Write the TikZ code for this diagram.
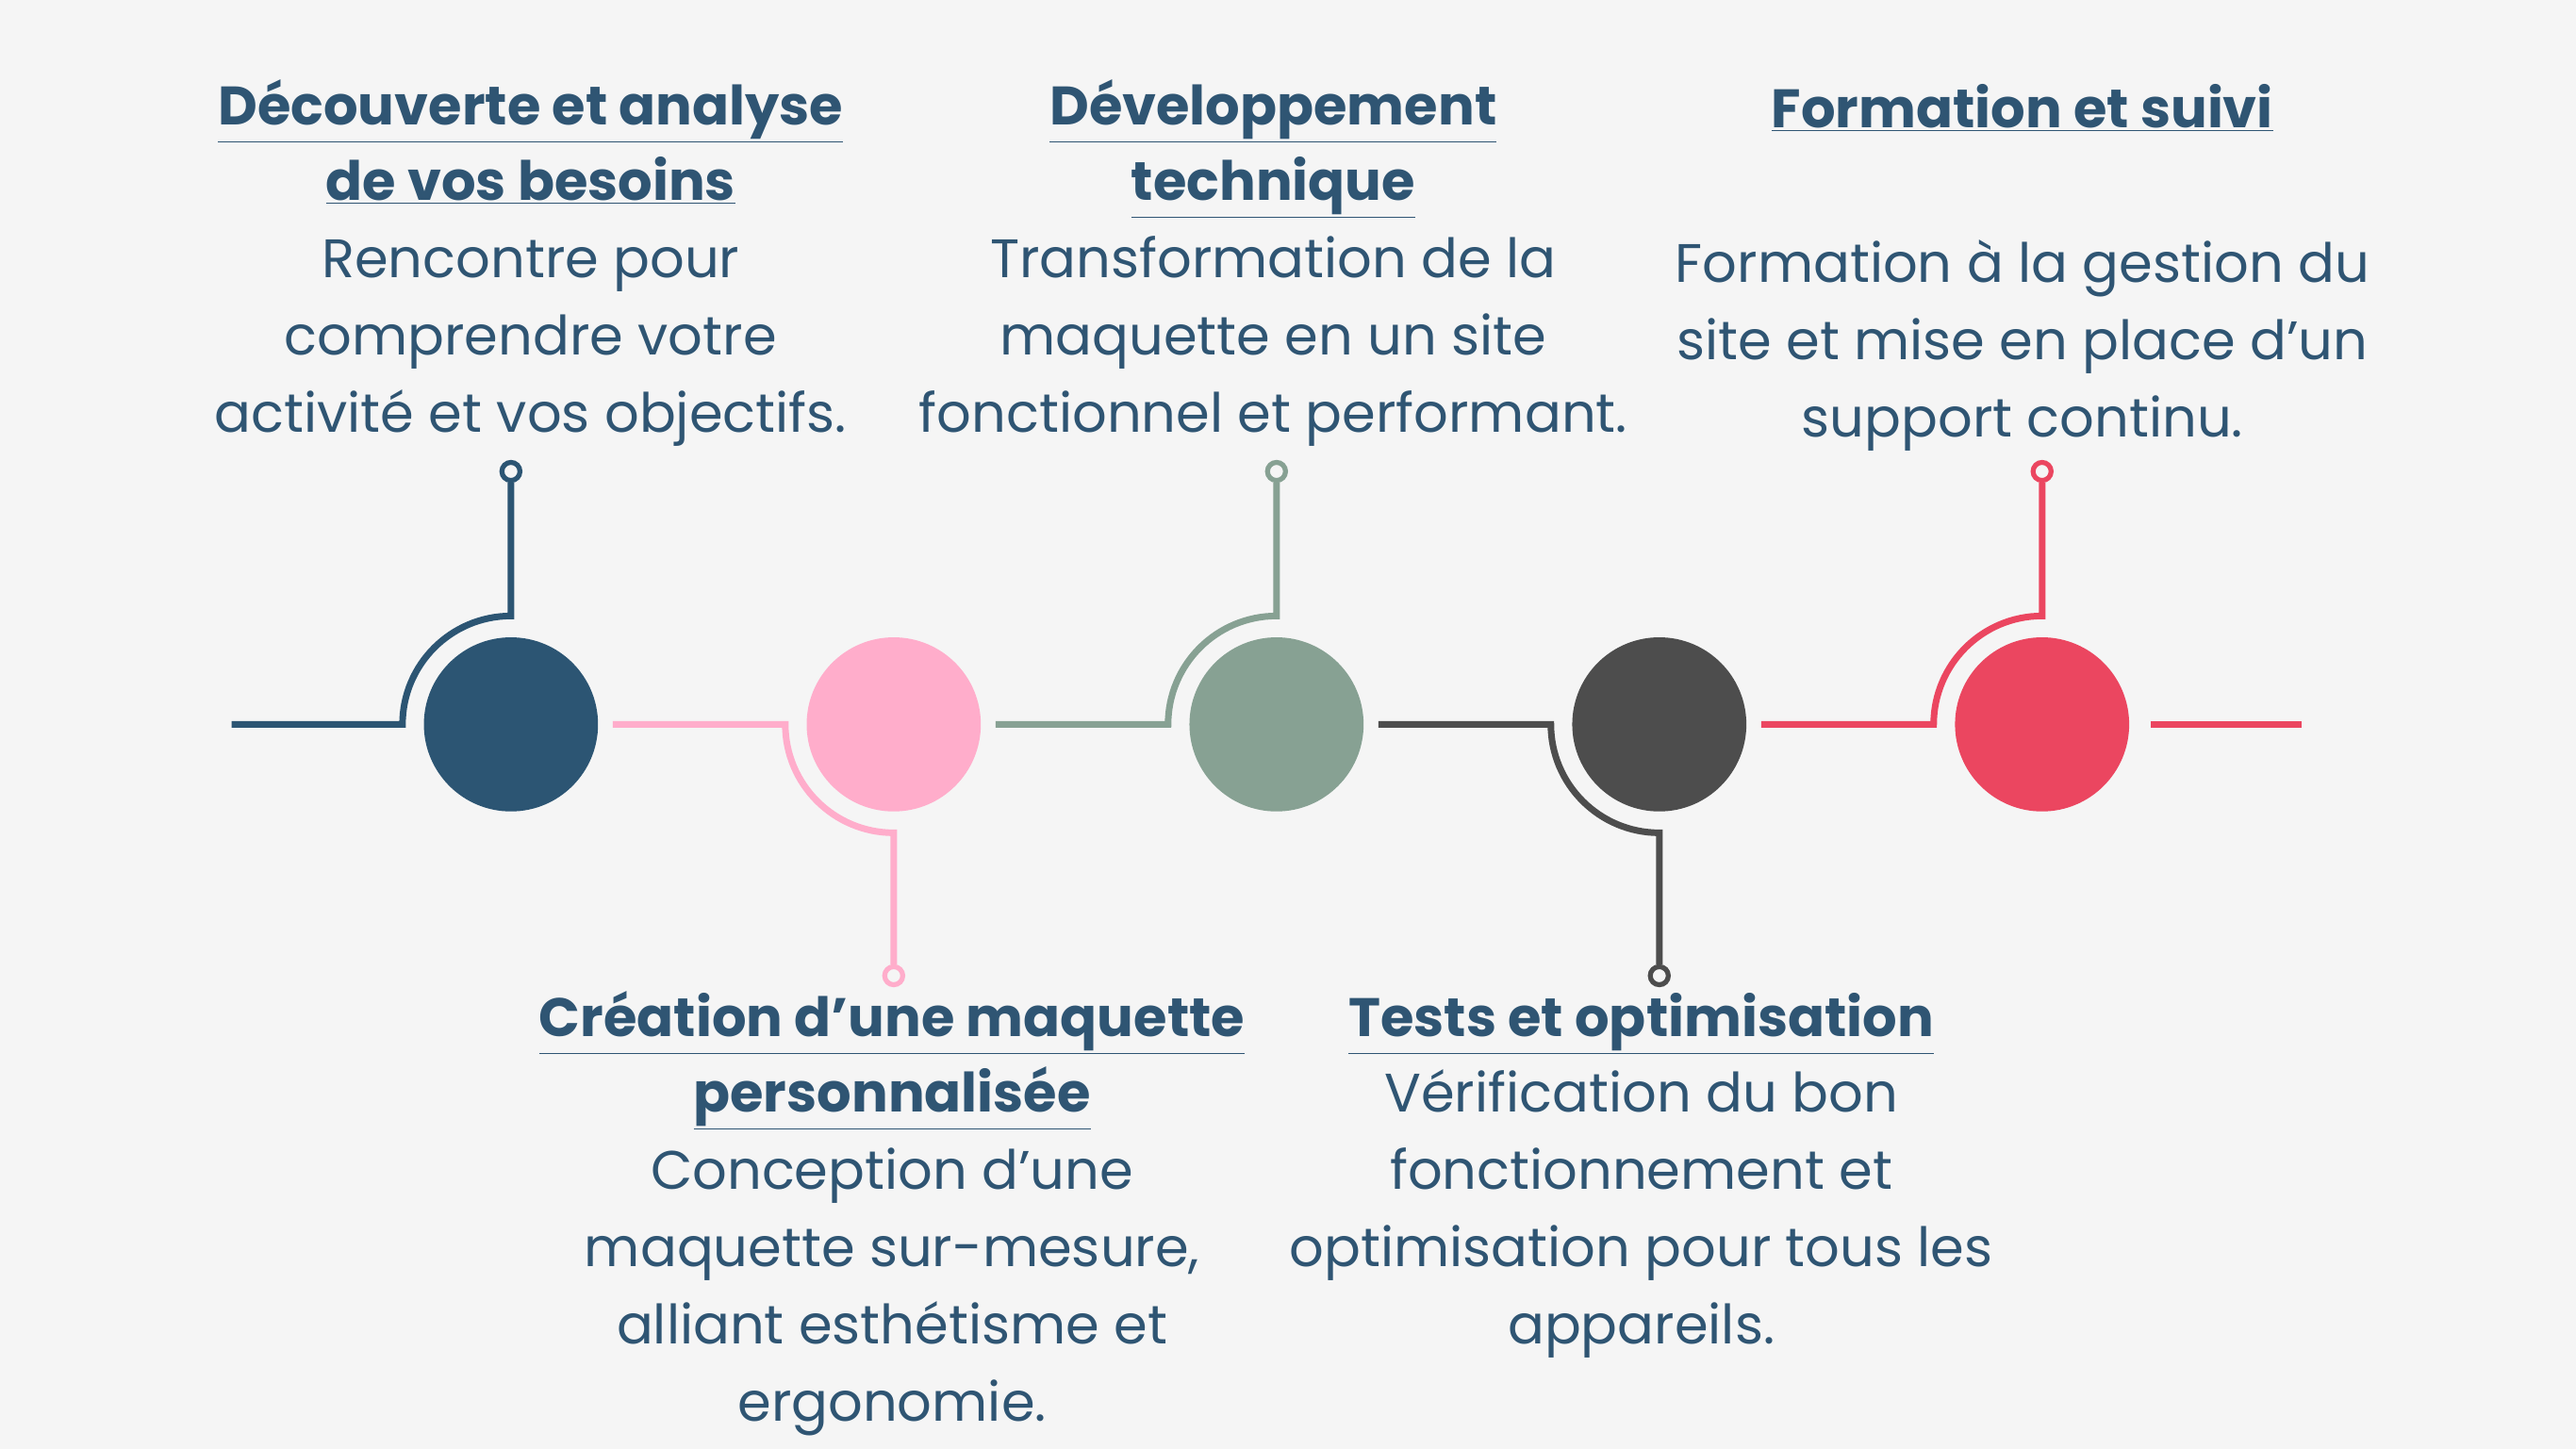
\documentclass[tikz,border=0pt]{standalone}
\usepackage{fontspec}
\setmainfont{Poppins}
\definecolor{bg}{HTML}{F5F5F5}
\definecolor{navy}{HTML}{2C5573}
\definecolor{pinkc}{HTML}{FFADCB}
\definecolor{sage}{HTML}{87A193}
\definecolor{darkc}{HTML}{4D4D4D}
\definecolor{redc}{HTML}{EB4660}
\definecolor{txt}{HTML}{2F5573}
\tikzset{
 ttl/.style={font=\fontsize{33}{38}\selectfont\bfseries, text=txt, inner sep=0pt, text height=25pt, text depth=9pt},
 bdy/.style={font=\fontsize{33}{38}\selectfont, text=txt, inner sep=0pt, text height=25pt, text depth=9pt},
 conn/.style={line width=4pt},
 dot/.style={circle, minimum size=106pt, inner sep=0pt},
 pin/.style={circle, draw, line width=3pt, fill=bg, minimum size=11pt, inner sep=0pt}
}
\newcommand{\tl}[4]{\node[ttl] (#1) at (#2,#3) {\underline{#4}};}
\newcommand{\bl}[4]{\node[bdy] (#1) at (#2,#3) {#4};}
\begin{document}
\begin{tikzpicture}[x=1pt,y=-1pt]
\fill[bg] (0,0) rectangle (1568,882);
\useasboundingbox (0,0) rectangle (1568,882);
% step 1 navy (up)
\coordinate (a0) at (141,441); \coordinate (a1) at (245,441);
\node[pin, draw=navy] (p1) at (311,287) {};
\draw[conn, navy] (a0) -- (a1) arc[start angle=180, end angle=270, radius=66] -- (p1.south);
\node[dot, fill=navy] (c1) at (311,441) {};
% step 2 pink (down)
\coordinate (b0) at (373,441); \coordinate (b1) at (478,441);
\node[pin, draw=pinkc] (p2) at (544,594) {};
\draw[conn, pinkc] (b0) -- (b1) arc[start angle=180, end angle=90, radius=66] -- (p2.north);
\node[dot, fill=pinkc] (c2) at (544,441) {};
% step 3 sage (up)
\coordinate (d0) at (606,441); \coordinate (d1) at (711,441);
\node[pin, draw=sage] (p3) at (777,287) {};
\draw[conn, sage] (d0) -- (d1) arc[start angle=180, end angle=270, radius=66] -- (p3.south);
\node[dot, fill=sage] (c3) at (777,441) {};
% step 4 dark (down)
\coordinate (e0) at (839,441); \coordinate (e1) at (944,441);
\node[pin, draw=darkc] (p4) at (1010,594) {};
\draw[conn, darkc] (e0) -- (e1) arc[start angle=180, end angle=90, radius=66] -- (p4.north);
\node[dot, fill=darkc] (c4) at (1010,441) {};
% step 5 red (up)
\coordinate (f0) at (1072,441); \coordinate (f1) at (1177,441);
\coordinate (f2) at (1309,441); \coordinate (f3) at (1401,441);
\node[pin, draw=redc] (p5) at (1243,287) {};
\draw[conn, redc] (f0) -- (f1) arc[start angle=180, end angle=270, radius=66] -- (p5.south);
\draw[conn, redc] (f2) -- (f3);
\node[dot, fill=redc] (c5) at (1243,441) {};
% texts 1
\tl{t1a}{323}{68}{Découverte et analyse}
\tl{t1b}{323}{114}{de vos besoins}
\bl{b1a}{323}{161}{Rencontre pour}
\bl{b1b}{323}{208}{comprendre votre}
\bl{b1c}{323}{255}{activité et vos objectifs.}
% texts 3
\tl{t3a}{775}{68}{Développement}
\tl{t3b}{775}{114}{technique}
\bl{b3a}{775}{161}{Transformation de la}
\bl{b3b}{775}{208}{maquette en un site}
\bl{b3c}{775}{255}{fonctionnel et performant.}
% texts 5
\tl{t5a}{1231}{70}{Formation et suivi}
\bl{b5a}{1231}{164}{Formation à la gestion du}
\bl{b5b}{1231}{211}{site et mise en place d’un}
\bl{b5c}{1231}{258}{support continu.}
% texts 2
\tl{t2a}{543}{623}{Création d’une maquette}
\tl{t2b}{543}{669}{personnalisée}
\bl{b2a}{543}{716}{Conception d’une}
\bl{b2b}{543}{763}{maquette sur-mesure,}
\bl{b2c}{543}{810}{alliant esthétisme et}
\bl{b2d}{543}{857}{ergonomie.}
% texts 4
\tl{t4a}{999}{623}{Tests et optimisation}
\bl{b4a}{999}{669}{Vérification du bon}
\bl{b4b}{999}{716}{fonctionnement et}
\bl{b4c}{999}{763}{optimisation pour tous les}
\bl{b4d}{999}{810}{appareils.}
\end{tikzpicture}
\end{document}
